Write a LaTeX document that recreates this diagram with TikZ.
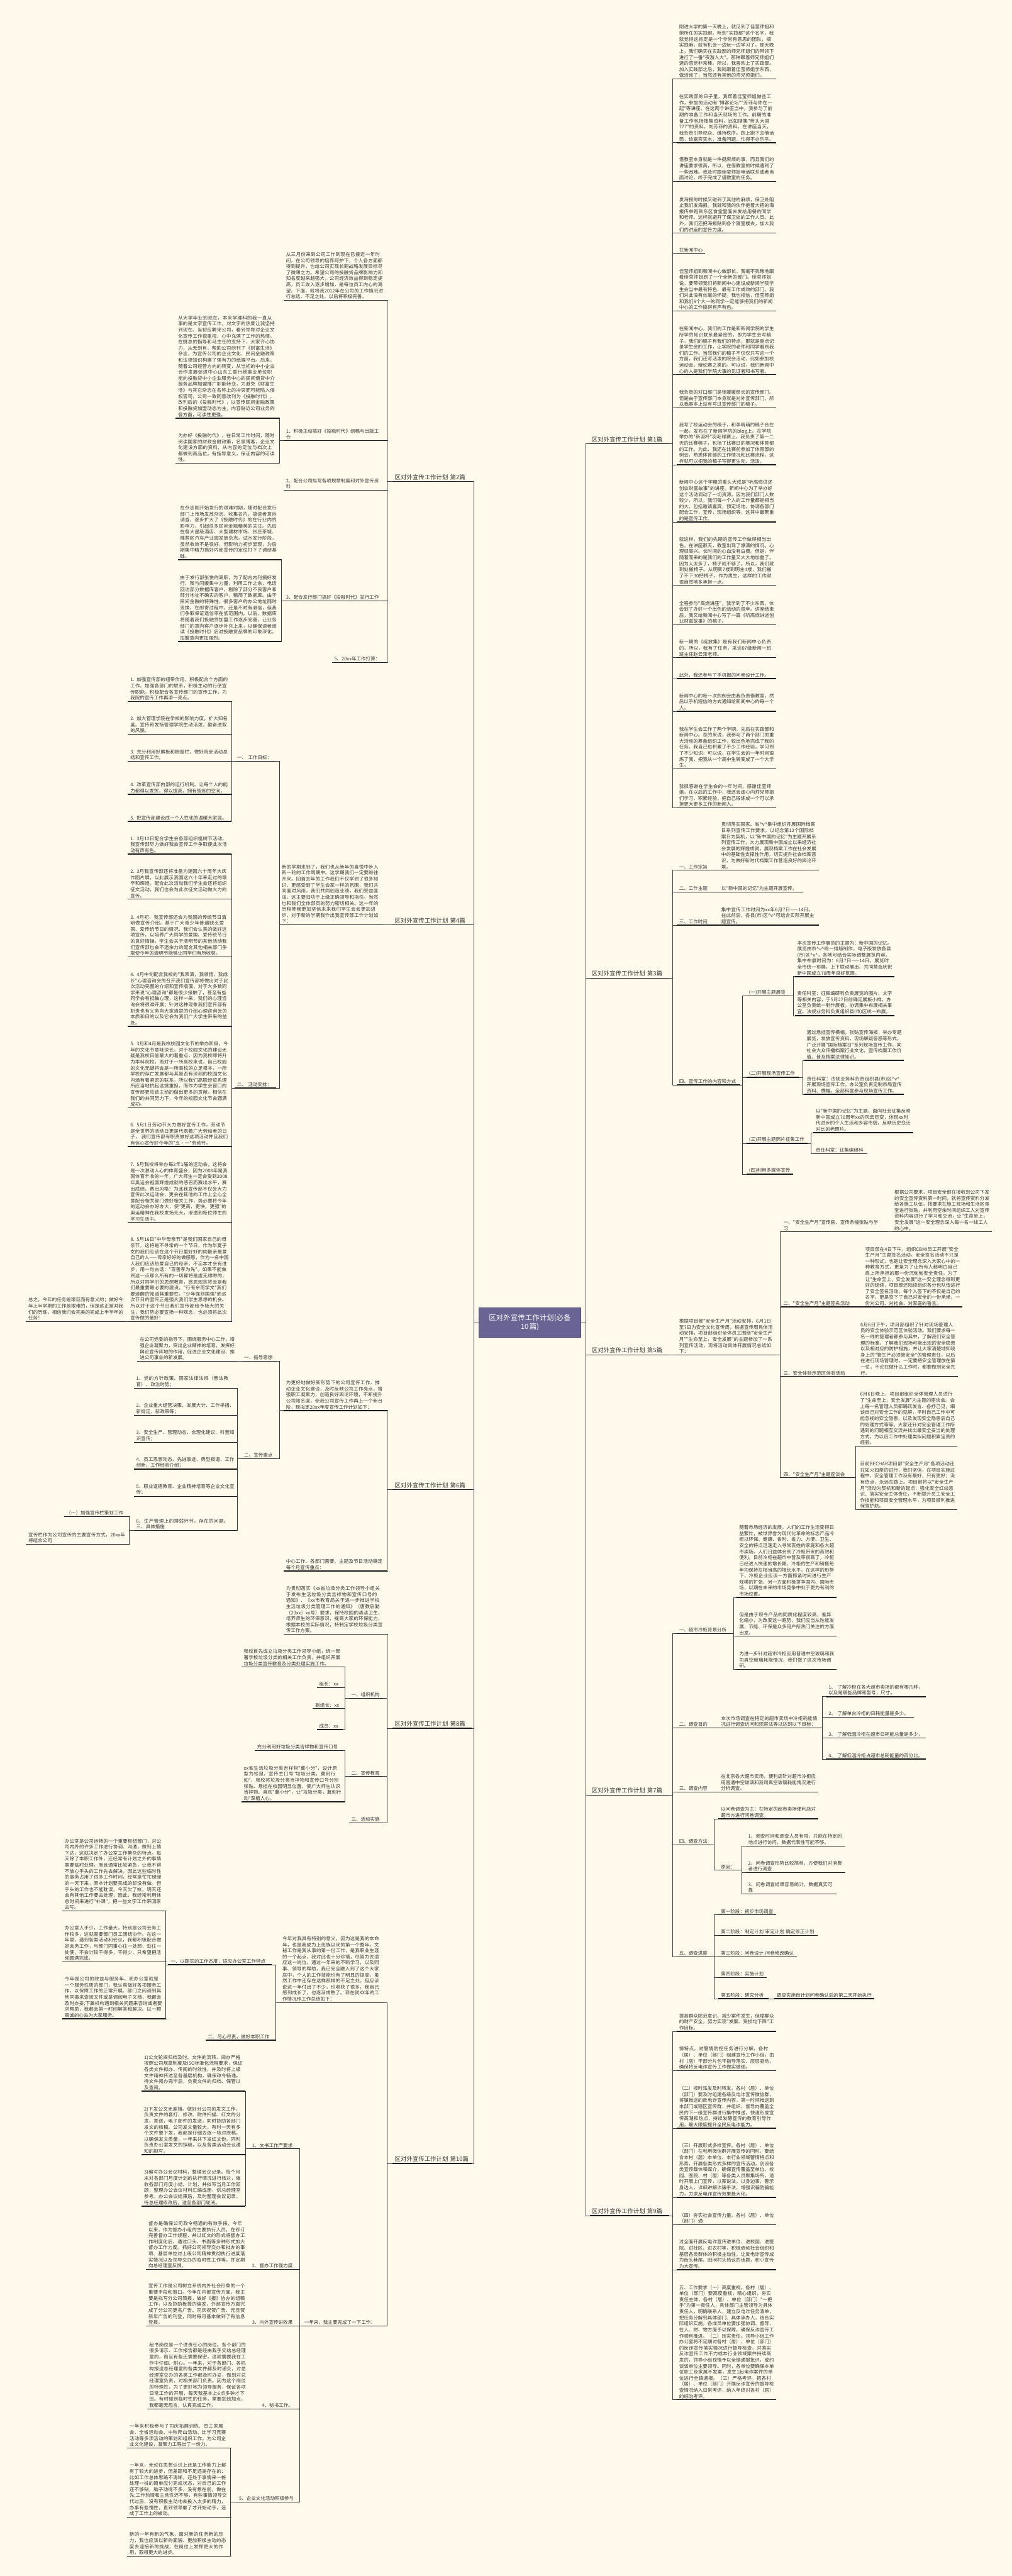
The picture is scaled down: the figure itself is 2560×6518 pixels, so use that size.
\documentclass[tikz,border=0pt]{standalone}
\usepackage{fontspec}
\newfontfamily\cjk{Noto Sans CJK SC}
\XeTeXlinebreaklocale "zh"
\XeTeXlinebreakskip = 0pt plus 1pt
\definecolor{bgcream}{RGB}{255,250,235}
\definecolor{hubfill}{RGB}{106,100,148}
\definecolor{hubdraw}{RGB}{70,66,105}
\definecolor{txtgray}{RGB}{51,51,51}
\definecolor{linkgray}{RGB}{60,60,60}
\definecolor{lineblack}{RGB}{25,25,25}
\tikzset{
  base/.style={font=\cjk\fontsize{12}{15.3}\selectfont, text=txtgray, align=left, inner xsep=6pt, inner ysep=3pt},
  uline/.style={draw=lineblack, line width=2.2pt},
  link/.style={draw=linkgray, line width=1.2pt},
  ul/.style={append after command={(\tikzlastnode.south west) edge[uline] (\tikzlastnode.south east)}},
  rnode/.style={base, ul, anchor=south west, text width=#1pt},
  lnode/.style={base, ul, anchor=south east, text width=#1pt},
  branch/.style={base, ul, font=\cjk\fontsize{15}{18}\selectfont, text width=190pt, inner xsep=5pt, inner ysep=4pt},
  rbranch/.style={branch, anchor=south west},
  lbranch/.style={branch, anchor=south east},
  hub/.style={font=\cjk\fontsize{18}{22}\selectfont, text=white, fill=hubfill, draw=hubdraw, line width=1pt,
    minimum width=259pt, minimum height=75pt, text width=230pt, align=center, inner sep=0pt}
}
\newcommand{\vv}{\textasciicircum v\textasciicircum}
\begin{document}
\begin{tikzpicture}[x=1pt,y=-1pt]
\fill[bgcream] (0,0) rectangle (2560,6518);
\useasboundingbox (0,0) rectangle (2560,6518);

% centre
\node[hub] (c) at (1340.5,3346.5) {区对外宣传工作计划(必备\\10篇)};

% the ten branches
\node[rbranch] (b1) at (1492,1123) {区对外宣传工作计划 第1篇};
\node[rbranch] (b3) at (1492,2475) {区对外宣传工作计划 第3篇};
\node[rbranch] (b5) at (1492,3428) {区对外宣传工作计划 第5篇};
\node[rbranch] (b7) at (1492,4542) {区对外宣传工作计划 第7篇};
\node[rbranch] (b9) at (1492,5606) {区对外宣传工作计划 第9篇};
\node[lbranch] (b2) at (1194,1218) {区对外宣传工作计划 第2篇};
\node[lbranch] (b4) at (1194,2340) {区对外宣传工作计划 第4篇};
\node[lbranch] (b6) at (1194,3769) {区对外宣传工作计划 第6篇};
\node[lbranch] (b8) at (1194,4373) {区对外宣传工作计划 第8篇};
\node[lbranch] (b10) at (1194,5474) {区对外宣传工作计划 第10篇};

\foreach \b in {b1,b3,b5,b7,b9} \draw[link] (c.east) -- ++(11,0) |- (\b.south west);
\foreach \b in {b2,b4,b6,b8,b10} \draw[link] (c.west) -- ++(-11,0) |- (\b.south east);

% 第1篇
\node[rnode=240] (b1a) at (1712,200) {刚进大学的第一天晚上，就见到了佳莹师姐和她所在的实践部。听到"实践部"这个名字，我就觉得这肯定是一个非常有意思的团队，搞实践嘛，就有机会一边玩一边学习了。那天晚上，我们确实在实践部的师兄师姐们的带领下进行了一番"夜游人大"。那种跟着师兄师姐们逛的感觉非常棒。所以，我喜欢上了实践部。加入实践部之后，我就跟着佳莹师姐学东西，做活动了，当然还有其他的师兄师姐们。};
\node[rnode=240] (b1b) at (1712,361) {在实践部的日子里，我帮着佳莹师姐做些工作，参加的活动有"博客论坛""芳菲与你在一起"等讲座。在这两个讲座当中，我参与了前期的准备工作和当天现场的工作。前期的准备工作包括搜集资料，比如搜集"带头大哥777"的资料，刘芳菲的资料。在讲座当天，我负责引导观众、维持秩序。跑上跑下去借话筒，给嘉宾买水，准备问题，忙得不亦乐乎。};
\node[rnode=240] (b1c) at (1712,459) {借教室本身就是一件挺麻烦的事，而且我们的讲座要求很高，所以，在借教室的时候遇到了一些困难。我及时跟佳莹师姐电话联系或者当面讨论，终于完成了借教室的任务。};
\node[rnode=240] (b1d) at (1712,590) {发海报的时候又碰到了其他的麻烦，保卫处阻止我们发海报。我就和我的伙伴抱着大把的海报传单跑到东区食堂里面去发给用餐的同学和老师。这样就避开了保卫处的工作人员。此外，我们还把海报贴到各个寝室楼去，加大我们的讲座的宣传力度。};
\node[rnode=60] (b1e) at (1712,642) {在新闻中心};
\node[rnode=240] (b1f) at (1712,787) {佳莹师姐到新闻中心做部长，我毫不犹豫地跟着佳莹师姐到了一个全新的部门。佳莹师姐说，要带领我们将新闻中心建设成新闻学院学生会当中最有特色、最有工作成效的部门，我们对此没有丝毫的怀疑。我也相信，佳莹师姐和我们6个大一的同学一定能够把我们的新闻中心的工作搞得有声有色。};
\node[rnode=240] (b1g) at (1712,948) {在新闻中心，我们的工作是和新闻学院的学生所学的知识联系最紧密的，即为学生会写稿子。我们的稿子有我们的特点，那就是重点记录学生会的工作，让学院的老师和同学看到我们的工作。当然我们的稿子不仅仅只写这一个方面，我们还写活泼的院会活动，比如参加校运动会，辩论赛之类的。可以说，我们新闻中心的人是我们学院大事的见证者和书写者。};
\node[rnode=240] (b1h) at (1712,1032) {我负责的对口部门是张媛媛部长的宣传部门。但是由于宣传部门本身就是对外宣传部门，所以我基本上没有写过宣传部门的稿子。};
\node[rnode=240] (b1i) at (1712,1176) {我写了校运动会的稿子，和李晓萌的稿子合在一起，发布在了新闻学院的blog上。在学院举办的"新羽杯"羽毛球赛上，我负责了第一二天的比赛稿子，包括了比赛日的赛况和体育部的工作。为此，我还在比赛前参加了体育部的例会，熟悉体育部的工作情况和比赛流程，这样就可以把我的稿子写得更生动、活泼。};
\node[rnode=240] (b1j) at (1712,1321) {新闻中心这个学期的重头大戏是"听高燃讲述创业财富故事"的讲座。新闻中心为了举办好这个活动调动了一切资源。因为我们部门人数较少，所以，我们每一个人的工作量都是相当的大。包括邀请嘉宾，预定场地，协调各部门配合工作，宣传，现场组织等，这其中最繁重的是宣传工作。};
\node[rnode=240] (b1k) at (1712,1481) {就这样，我们的先期的宣传工作做得相当出色。在讲座那天，教室出现了爆满的情况。心理很高兴。长时间的心血没有白费。但是，伴随着而来的是我们的工作量又大大地加重了。因为人太多了，椅子就不够了。所以，我们就到处搬椅子。从明新7楼到明主4楼，我们搬了不下30把椅子。作为男生，这样的工作就很自然地多承担一点。};
\node[rnode=240] (b1l) at (1712,1581) {全程参与"高燃讲座"，我学到了不少东西，体会到了办好一个出色的活动的艰辛。讲座结束后，我又给新闻中心写了一篇《听高燃讲述创业财富故事》的稿子。};
\node[rnode=240] (b1m) at (1712,1664) {新一期的《绽放集》是有我们新闻中心负责的，所以，我有了任务，采访07级新闻一班班主任赵云泽老师。};
\node[rnode=240] (b1n) at (1712,1717) {此外，我还参与了手机报的问卷设计工作。};
\node[rnode=240] (b1o) at (1712,1800) {新闻中心的每一次的例会由我负责借教室，然后以手机短信的方式通知给新闻中心的每一个人。};
\node[rnode=240] (b1p) at (1712,1945) {我在学生会工作了两个学期，先后在实践部和新闻中心。总的来说，我参与了两个部门的重大活动的筹备组织工作，较出色地完成了我的任务。我自己也积累了不少工作经验，学习到了不少知识。可以说，在学生会的一年时间锻炼了我，把我从一个高中生转变成了一个大学生。};
\node[rnode=240] (b1q) at (1712,2044) {我很感谢在学生会的一年时间，感谢佳莹师姐。在以后的工作中，我还会虚心向师兄师姐们学习，积累经验，把自己锻炼成一个可以承担更大更多工作的新闻人。};
\foreach \n in {b1a,b1b,b1c,b1d,b1e,b1f,b1g,b1h,b1i,b1j,b1k,b1l,b1m,b1n,b1o,b1p,b1q}
  \draw[link] (b1.south east) -- ++(9,0) |- (\n.south west);

% 第3篇
\node[rnode=95] (b3a) at (1712,2202) {一、工作宗旨};
\node[rnode=240] (b3a1) at (1819,2202) {贯彻落实国家、省\vv 集中组织开展国际档案日系列宣传工作要求，以纪念第12个国际档案日为契机，以"新中国的记忆"为主题开展系列宣传工作，大力展现新中国成立以来经济社会发展的辉煌成就，展现档案工作在社会发展中的基础性支撑性作用，切实提升社会档案意识，为做好新时代档案工作营造良好的舆论环境。};
\node[rnode=95] (b3b) at (1712,2257) {二、工作主题};
\node[rnode=200] (b3b1) at (1819,2257) {以"新中国的记忆"为主题开展宣传。};
\node[rnode=95] (b3c) at (1712,2341) {三、工作时间};
\node[rnode=240] (b3c1) at (1819,2341) {集中宣传工作时间为xx年6月7日——14日。在此前后，各县(市)区\vv 可结合实际开展主题宣传。};
\node[rnode=148] (b3d) at (1712,2745) {四、宣传工作的内容和方式};
\node[rnode=96] (b3d1) at (1889,2520) {(一)开展主题展览};
\node[rnode=240] (b3d1a) at (2011,2471) {本次宣传工作展览的主题为：新中国的记忆。展览由市\vv 统一排版制作，电子版发放各县(市)区\vv ，各地可结合实际调整展览内容。集中布展时间为：6月7日——14日。展览时全市统一布展，上下联动展出，共同营造庆祝新中国成立70周年良好氛围。};
\node[rnode=240] (b3d1b) at (2011,2570) {责任科室：征集编研科负责展览的图片、文字等相关内容，于5月27日前确定展板小样。办公室负责统一制作展板，协调集中布展相关事宜。法规业务科负责组织县(市)区统一布展。};
\node[rnode=120] (b3d2) at (1889,2726) {(二)开展现场宣传工作};
\node[rnode=240] (b3d2a) at (2035,2683) {通过悬挂宣传横幅，张贴宣传海报，举办专题展览，发放宣传资料，现场解疑答惑等形式，广泛开展"国际档案日"系列现场宣传工作，向社会大众传播档案行业文化，宣传档案工作价值，普及档案法律知识。};
\node[rnode=240] (b3d2b) at (2035,2769) {责任科室：法规业务科负责组织县(市)区\vv 开展现场宣传工作。办公室负责定制市局宣传资料、横幅。全部科室参与现场宣传工作。};
\node[rnode=142] (b3d3) at (1889,2893) {(三)开展主题照片征集工作};
\node[rnode=240] (b3d3a) at (2058,2866) {以"新中国的记忆"为主题，面向社会征集反映新中国成立70周年xx的风云巨变，体现xx时代进步的个人生活和乡容市貌，反映历史变迁对比的老照片。};
\node[rnode=124] (b3d3b) at (2058,2919) {责任科室：征集编研科};
\node[rnode=106] (b3d4) at (1889,2971) {(四)利用多媒体宣传};
\foreach \n in {b3a,b3b,b3c,b3d} \draw[link] (b3.south east) -- ++(9,0) |- (\n.south west);
\draw[link] (b3a.south east) -- (b3a1.south west);
\draw[link] (b3b.south east) -- (b3b1.south west);
\draw[link] (b3c.south east) -- (b3c1.south west);
\foreach \n in {b3d1,b3d2,b3d3,b3d4} \draw[link] (b3d.south east) -- ++(6,0) |- (\n.south west);
\foreach \n in {b3d1a,b3d1b} \draw[link] (b3d1.south east) -- ++(10,0) |- (\n.south west);
\foreach \n in {b3d2a,b3d2b} \draw[link] (b3d2.south east) -- ++(9,0) |- (\n.south west);
\foreach \n in {b3d3a,b3d3b} \draw[link] (b3d3.south east) -- ++(9,0) |- (\n.south west);

% 第5篇
\node[rnode=240] (b5a) at (1712,3428) {根据项目部"安全生产月"活动安排，6月1日至7日为安全文化宣传周，根据宣传周具体活动安排，项目部组织全体员工围绕"安全生产月""生命至上，安全发展"的主题参加了一系列宣传活动，现将活动具体开展情况总结如下：};
\node[rnode=258] (b5a1) at (1976,3117) {一、"安全生产月"宣传画、宣传条幅张贴与学\\习};
\node[rnode=240] (b5a1c) at (2257,3117) {根据公司要求，项目安全部在接收到公司下发的安全宣传资料第一时间，就将宣传资料分发给各施工队伍，按要求在施工现场和生活区食堂进行张贴，并利用空余时间组织工人对宣传资料内容进行了学习和交流，让"生命至上，安全发展"这一安全理念深入每一名一线工人的心中。};
\node[rnode=195] (b5a2) at (1976,3307) {二、"安全生产月"主题签名活动};
\node[rnode=240] (b5a2c) at (2183,3307) {项目部在4日下午，组织CBMI员工开展"安全生产月"主题签名活动。安全签名活动不只是一种形式，也是让安全理念深入大家心中的一种教育方式，更是为了让所有人都明白自己肩上所承担的那一份沉甸甸安全责任。为了让"生命至上，安全发展"这一安全理念得到更好的延续，项目部还陆续组织各分包队伍进行了安全签名活动。每个人签下的不仅是自己的名字，更是签下了自己对安全的一份承诺，一份对公司、对社会、对家庭的誓言。};
\node[rnode=183] (b5a3) at (1976,3483) {三、安全体验示范区体验活动};
\node[rnode=240] (b5a3c) at (2171,3483) {6月6日下午，项目部组织了针对现场管理人员的安全体验示范区体验活动。我们要求每一名一线的管理者都参与其中，了解我们安全管理的标准，了解我们现场可能出现的安全隐患以及相对应的防护措施，并让大家清楚地知晓身上的"管生产必须管安全"的管理责任，以后在进行现场管理时，一定要把安全管理放在第一位，不论在做什么工作时，都要做到安全先行。};
\node[rnode=173] (b5a4) at (1976,3739) {四、"安全生产月"主题座谈会};
\node[rnode=240] (b5a4a) at (2170,3659) {6月6日晚上，项目部组织全体管理人员进行了"生命至上，安全发展"为主题的座谈会。会上每一名管理人员都踊跃发言、各抒己见，细谈自己对安全工作的见解，平时自己工作中可能忽视的安全隐患，以及发现安全隐患后自己的处理方式等等。大家还针对安全管理工作所遇到的问题相互交流并找出最安全妥当的处理方式，为以后工作中处理类似问题积累宝贵的经验。};
\node[rnode=240] (b5a4b) at (2170,3820) {目前BECHAR项目部"安全生产月"各项活动还在如火如荼的进行，我们坚信，在项目实施过程中，安全管理工作没有最好，只有更好；没有终点，永远在路上。项目部将以"安全生产月"活动为契机和新的起点，强化安全红线意识、落实安全主体责任，不断提升员工安全工作技能和项目安全管理水平，为项目顺利推进保驾护航。};
\draw[link] (b5.south east) -- (b5a.south west);
\foreach \n in {b5a1,b5a2,b5a3,b5a4} \draw[link] (b5a.south east) -- ++(10,0) |- (\n.south west);
\draw[link] (b5a1.south east) -- (b5a1c.south west);
\draw[link] (b5a2.south east) -- (b5a2c.south west);
\draw[link] (b5a3.south east) -- (b5a3c.south west);
\foreach \n in {b5a4a,b5a4b} \draw[link] (b5a4.south east) -- ++(3,0) |- (\n.south west);

% 第7篇
\node[rnode=127] (b7a) at (1712,4133) {一、超市冷柜背景分析};
\node[rnode=240] (b7a1) at (1864,4042) {随着市场经济的发展，人们的工作生活变得日益繁忙，被世界誉为现代化革命的标志产品冷柜以环保、健康、省时、省力、方便、卫生、安全的特点迅速走入寻常百姓的家庭和各大超市卖场。人们日益体会到了冷柜带来的高效和便利。目前冷柜在超市中普及率很高了，冷柜已经进入快速的增长期，冷柜的生产和销售每年均保持在相当高的增长水平。在这样的形势下，冷柜企业应该一方面抓紧时间进行生产规模的扩张，另一方面积极拼争国内、国际市场，以期在未来的市场竞争中处于更为有利的市场位置。};
\node[rnode=240] (b7a2) at (1864,4140) {但是由于现今产品的同质化程度较高，差异化缩小，为改变这一趋势，我们应当从性能发展，节能、环保是众多用户所热门关注的方面出发。};
\node[rnode=240] (b7a3) at (1864,4224) {为进一步针对超市冷柜应用普通中空玻璃和我司真空玻璃耗能情况，我们做了这次市场调研。};
\node[rnode=94] (b7b) at (1712,4372) {二、调查目的};
\node[rnode=248] (b7b1) at (1818,4372) {本次市场调查在特定的超市卖场中冷柜耗能情况进行调查访问和观察法等以达到以下目标：};
\node[rnode=240] (b7b1a) at (2090,4293) {1、 了解冷柜在各大超市卖场的都有哪几种，以及是哪些品牌和型号，尺寸。};
\node[rnode=210] (b7b1b) at (2090,4345) {2、 了解单台冷柜的日耗能量是多少。};
\node[rnode=240] (b7b1c) at (2090,4398) {3、 了解低温冷柜在超市日耗能总量是多少，};
\node[rnode=240] (b7b1d) at (2090,4451) {4、 了解低温冷柜占超市总耗能量的百分比。};
\node[rnode=94] (b7c) at (1712,4534) {三、调查内容};
\node[rnode=240] (b7c1) at (1818,4534) {在北京各大超市卖场，便利店针对超市冷柜应用普通中空玻璃和我司真空玻璃耗能情况进行分析调查。};
\node[rnode=76] (b7d) at (1712,4668) {四、调查方法};
\node[rnode=240] (b7d1) at (1818,4602) {以问卷调查为主：在特定的超市卖场便利店对超市方进行问卷调查。};
\node[rnode=40] (b7d2) at (1818,4732) {原因：};
\node[rnode=240] (b7d2a) at (1887,4671) {1、调查时间和调查人员有限，只能在特定的地点进行访问，数据代表性可能不够。};
\node[rnode=240] (b7d2b) at (1887,4738) {2、问卷调查形势比较简单，方便我们对消费者进行调查};
\node[rnode=217] (b7d2c) at (1887,4792) {3、问卷调查结果容易统计，数据真实可靠};
\node[rnode=76] (b7e) at (1712,4951) {五、调查进度};
\node[rnode=134] (b7e1) at (1818,4845) {第一阶段：初步市场调查};
\node[rnode=238] (b7e2) at (1818,4897) {第二阶段：制定计划 审定计划 确定修正计划};
\node[rnode=186] (b7e3) at (1818,4951) {第三阶段：问卷设计 问卷修改确认};
\node[rnode=110] (b7e4) at (1818,5004) {第四阶段：实施计划};
\node[rnode=114] (b7e5) at (1818,5057) {第五阶段：研究分析};
\node[rnode=240] (b7e5a) at (1959,5057) {调查实施自计划问卷确认后的第二天开始执行};
\foreach \n in {b7a,b7b,b7c,b7d,b7e} \draw[link] (b7.south east) -- ++(9,0) |- (\n.south west);
\foreach \n in {b7a1,b7a2,b7a3} \draw[link] (b7a.south east) -- ++(4,0) |- (\n.south west);
\draw[link] (b7b.south east) -- (b7b1.south west);
\foreach \n in {b7b1a,b7b1b,b7b1c,b7b1d} \draw[link] (b7b1.south east) -- ++(2,0) |- (\n.south west);
\draw[link] (b7c.south east) -- (b7c1.south west);
\foreach \n in {b7d1,b7d2} \draw[link] (b7d.south east) -- ++(7,0) |- (\n.south west);
\foreach \n in {b7d2a,b7d2b,b7d2c} \draw[link] (b7d2.south east) -- ++(7,0) |- (\n.south west);
\foreach \n in {b7e1,b7e2,b7e3,b7e4,b7e5} \draw[link] (b7e.south east) -- ++(7,0) |- (\n.south west);
\draw[link] (b7e5.south east) -- (b7e5a.south west);

% 第9篇
\node[rnode=240] (b9a) at (1712,5140) {提高群众防范意识、减少案件发生，保障群众的财产安全，努力实现"发案、受损均下降"工作目标。};
\node[rnode=240] (b9b) at (1712,5239) {情特点，对警情防控任务进行分解，各村（居）、单位（部门）组建宣传工作小组，由村（居）干部分片包干指导落实、层层驱动，确保将反电诈宣传工作做实做细。};
\node[rnode=240] (b9c) at (1712,5385) {（二）按时派发及时转发。各村（居）、单位（部门）要及时组建各级反电诈宣传微信群，将镇推送的反电诈宣传内容，第一时间推送到本部门或辖区宣传群，并组织、督导向覆盖全民的下一级宣传群进行集中推送，快速形成宣传高潮和热点，持续发酵宣传的教育引导作用，最大限度提升全民反电诈能力。};
\node[rnode=240] (b9d) at (1712,5560) {（三）开展形式多样宣传。各村（居）、单位（部门）在利用微信群开展宣传的同时，要结合本村（居）本单位、本行业领域警情特点和形势，开展各类形式多样的宣传活动，创设各类宣传载体和媒介，确保宣传覆盖至单位、校园、医院、村（居）等各类人员聚集场所，适时开展上门宣传，以案说法，以身边事，警示身边人，详细讲解诈骗手法，增强识骗防骗能力，力求反电诈宣传效果最大化。};
\node[rnode=240] (b9e) at (1712,5629) {（四）夯实社会宣传力量。各村（居）、单位（部门）通};
\node[rnode=240] (b9f) at (1712,5743) {过全面开展反电诈宣传进单位、进校园、进医院、进社区、进农村等，积极调动社会组织和基层各类群体的积极主动性，让反电诈宣传成为街头巷尾、田间村头热议的话题，积小宣传为大宣传。};
\node[rnode=240] (b9g) at (1712,6072) {五、工作要求（一）高度重视。各村（居）、单位（部门）要高度重视，精心组织，夯实责任主体，各村（居）、单位（部门）"一把手"为第一责任人，具体部门主管领导为具体责任人，明确联系人，建立反电诈任务清单，把任务分解到具体部门、具体承办人，结合实际组织实施。各成员单位要加强协调、督导，在人、财、物方面予以保障，确保反诈宣传工作顺利推进。（二）压实责任。领导小组工作办公室将不定期对各村（居）、单位（部门）的反诈宣传落实情况进行督导检查，对落实反诈宣传工作不力或本行业领域案件持续高发的，领导小组视情予以全镇通报批评，或约谈该单位主要领导。同时，各单位要确保本单位职工及家属不发案，发生1起电诈案件的单位进行全镇通报。（三）严格考评。把各村（居）、单位（部门）开展反诈宣传的督导检查情况纳入日常考评，纳入年终对各村（居）的综治考评。};
\foreach \n in {b9a,b9b,b9c,b9d,b9e,b9f,b9g} \draw[link] (b9.south east) -- ++(9,0) |- (\n.south west);

% 第2篇
\node[lnode=250] (b2a) at (980,760) {从三月份来到公司工作到现在已接近一年时间，在公司领导的培养呵护下，个人各方面都得到提升，也给公司实现长期战略发展目标尽了微薄之力。希望公司的投融贷品牌影响力和知名度越来越强大，公司经济效益得到稳定提高，员工收入逐步增加，是每位员工内心的渴望。下面，就将我2012年在公司的工作情况进行总结，不足之处，以后将积极完善。};
\node[lnode=250] (b2b) at (980,1115) {1、积极主动搞好《投融时代》组稿与出版工\\作};
\node[lnode=250] (b2b1) at (707,1058) {从大学毕业到现在，本来学理科的我一直从事的是文字宣传工作，对文字的热爱让我坚持到现在。当初应聘来公司，看到领导对企业文化宣传工作很重视，心中充满了工作的热情。在姚总的指导和马主任的支持下，大家齐心协力，从无到有，帮助公司创刊了《财富生活》杂志，为宣传公司的企业文化、民间金融政策和法律知识构建了强有力的纸媒平台。后来，随着公司经营方向的转变，从当初的中小企业合作发展促进中心山东工委行政事业单位职能向投融贷中小企业服务中心的民间借贷中介服务品牌加盟推广职能转变，为避免《财富生活》与其它杂志在名称上的冲突而可能陷入侵权官司，公司一致同意改刊为《投融时代》。改刊后的《投融时代》，以宣传民间金融政策和投融贷加盟动态为主，内容贴近公司业务的各方面，可读性更强。};
\node[lnode=250] (b2b2) at (707,1172) {为办好《投融时代》，在日常工作时间，随时阅读国家的财政金融政策，名家博客，企业文化建设方面的资料，从内容的定位与档次上都做到高品位，有指导意义，保证内容的可读性。};
\node[lnode=250] (b2c) at (980,1240) {2、配合公司拟写各项规章制度和对外宣传资\\料};
\node[lnode=250] (b2d) at (980,1520) {3、配合发行部门搞好《投融时代》发行工作};
\node[lnode=250] (b2d1) at (712,1416) {在杂志刚开始发行的艰难时期，随时配合发行部门上市场发放杂志，收集名片，搞读者意向调查，逐步扩大了《投融时代》的在行业内的影响力，引起很多民间金融精英的关注。先后在各大星级酒店、大型建材市场、张庄茶城、槐荫区汽车产业园发放杂志。试水发行阶段，虽然收效不是很好，但影响力初步显现，为后期集中精力搞好内部宣传的定位打下了调研基础。};
\node[lnode=250] (b2d2) at (712,1623) {由于发行部张悦的离职，为了配合内刊搞好发行，我与闫媛集中力量，利用工作之余，电话回访部分数据库客户，剔除了部分不良客户和部分地址不确实的客户，精简了数据库。由于民间金融的特殊性，很多客户的办公地址随时变换，在邮寄过程中，还是不时有退信，但我们争取保证退信率在低范围内。以后，数据库将随着我们投融贷加盟工作逐步完善，让业务部门的意向客户逐步补充上来，以确保读者阅读《投融时代》后对投融贷品牌的印象深化，加盟意向更加强烈。};
\node[lnode=128] (b2e) at (980,1676) {5、20xx年工作打算：};
\foreach \n in {b2a,b2b,b2c,b2d,b2e} \draw[link] (b2.south west) -- ++(-14,0) |- (\n.south east);
\foreach \n in {b2b1,b2b2} \draw[link] (b2b.south west) -- ++(-11,0) |- (\n.south east);
\foreach \n in {b2d1,b2d2} \draw[link] (b2d.south west) -- ++(-6,0) |- (\n.south east);

% 第4篇
\node[lnode=250] (b4a) at (969,2340) {新的学期来到了，我们也从新年的喜悦中步入新一轮的工作周期中。这学期我们一定要继往开来。回首去年的工作我们不仅学到了很多知识，更感受到了学生会家一样的氛围，我们共同面对风雨，我们共同创造业绩，我们受益匪浅，这主要归功于上级正确领导和指引。当然也和我们全体部员的努力密切相关。这一年的历程使我更加坚信未来我们学生会会更加进步，对于新的学期我作出我宣传部工作计划如下：};
\node[lnode=92] (b4a1) at (698,1926) {一、 工作目标：};
\node[lnode=250] (b4a1a) at (586,1775) {1. 加强宣传部的纽带作用，积极配合个方面的工作。加强各部门的联系，积极主动的行使宣传职能。积极配合各宣传部门的宣传工作，为我院的宣传工作再添一亮点。};
\node[lnode=250] (b4a1b) at (586,1858) {2. 加大管理学院在学校的影响力度，扩大知名度。宣传和发扬管理学院生动活泼，勤奋进取的风貌。};
\node[lnode=250] (b4a1c) at (586,1926) {3. 充分利用好展板和橱窗栏，做好院会活动总结和宣传工作。};
\node[lnode=250] (b4a1d) at (586,2010) {4. 改革宣传部内部的运行机制。让每个人的能力都得以发挥，得以提高，拥有锻炼的空间。};
\node[lnode=250] (b4a1e) at (586,2078) {5. 把宣传部建设成一个人性化的温暖大家庭。};
\node[lnode=92] (b4a2) at (698,2753) {二、 活动安排：};
\node[lnode=250] (b4a2a) at (586,2161) {1. 3月12日配合学生会各部组织植树节活动，我宣传部尽力做好我会宣传工作争取使此次活动有声有色。};
\node[lnode=250] (b4a2b) at (586,2275) {2. 3月我宣传部还将准备为建国六十周年大庆作图片展，以此展示我国这六十年来走过的艰辛和辉煌。配合此次活动我们学生会还将组织征文活动，我们也会为此次征文活动做大力的宣传。};
\node[lnode=250] (b4a2c) at (586,2421) {3. 4月初，我宣传部还会为我国的传统节日清明做宣传介绍，基于广大青少年普遍缺乏爱国、爱传统节日的情况，我们会认真的做好这项宣传，以培养广大同学的爱国、爱传统节日的良好情操。学生会关于清明节的其他活动我们宣传部也会不遗余力的配合其他相关部门争取使今年的清明节能够让同学们有所收获。};
\node[lnode=250] (b4a2d) at (586,2597) {4. 4月中旬配合我校的"我表演，我领悟，我成长"心理咨询会的召开我们宣传部将做出对于此次活动完整的介绍和宣传版面，对于大多数同学来说"心理咨询"都是很少接触了，甚至有些同学会有抵触心理，这样一来，我们的心理咨询会将很难开展；针对这种现象我们宣传部有职责也有义务向大家清楚的介绍心理咨询会的本质和目的以及它会为我们广大学生带来的益处。};
\node[lnode=250] (b4a2e) at (586,2803) {5. 3月和4月是我校校园文化节的举办阶段，今年的文化节意味深长，对于校园文化的建设无疑是我校目前最大的着重点，因为我校即将升为本科院校，而对于一所高校来说，自己校园的文化无疑将会是一所高校的立足根本，一所学校的存亡发展都与其是否有深刻的校园文化内涵有着紧密的联系，所以我们高职经贸系理所应当地抗起这挑重担，而作为学生会窗口的宣传部更应该主动的做出更多的贡献，相信在我们的共同努力下，今年的校园文化节会圆满成功。};
\node[lnode=250] (b4a2f) at (586,2901) {6. 5月1日劳动节大力做好宣传工作，劳动节是全世界的活动日更是代表着广大劳动者的日子， 我们宣传部有职责做好这项活动并且我们有信心宣传好今年的"五·一"劳动节。};
\node[lnode=250] (b4a2g) at (586,3093) {7. 5月我校将举办每2年1届的运动会，这将会是一次激动人心的体育盛会，因为2008年是我国体育丰收的一年，广大师生一定会受到2008年奥运会祖国辉煌成就的感召而赛出水平，赛出成绩，赛出风格！为此我宣传部不仅会大力宣传此次运动会，更会在其他的工作上全心全意配合相关部门做好相关工作，势必要将今年的运动会办好办大，使"更高，更快，更强"的奥运精神在我校发扬光大，渗透到每位师生的学习生活中。};
\node[lnode=250] (b4a2h) at (586,3344) {8. 5月16日"中华母亲节"是我们国家自己的母亲节，这将是不寻常的一个节日，作为华夏子女的我们应该在这个节日里好好的向最亲最爱自己的人——母亲好好的做感恩，作为一名中国人我们应该热爱自己的母亲，不忘本才会有进步，用一句古话："百善孝为先"。如果不能做到这一点那么所有的一切都将是虚无缥缈的，所以对同学们的思想教育，感恩观念将会是我们最重要最必要的建设，"行有余而学文"我们要清醒的知道其重要性，"少年强则国强"而这次节日的宣传正是强大我们学生思想的机会。所以对于这个节日我们宣传部给予极大的关注，我们势必要宣扬一种观念，也必须将此次宣传做的最好！};
\node[lnode=240] (b4a2h1) at (318,3344) {总之，今年的任务是艰巨而有意义的；做好今年上半学期的工作是艰难的，但是这正是对我们的历练，相信我们会完美的完成上半学年的任务！};
\draw[link] (b4.south west) -- ++(-14,0) |- (b4a.south east);
\foreach \n in {b4a1,b4a2} \draw[link] (b4a.south west) |- (\n.south east);
\foreach \n in {b4a1a,b4a1b,b4a1c,b4a1d,b4a1e} \draw[link] (b4a1.south west) -- ++(-8,0) |- (\n.south east);
\foreach \n in {b4a2a,b4a2b,b4a2c,b4a2d,b4a2e,b4a2f,b4a2g,b4a2h} \draw[link] (b4a2.south west) -- ++(-8,0) |- (\n.south east);
\draw[link] (b4a2h.south west) -- (b4a2h1.south east);

% 第6篇
\node[lnode=250] (b6a) at (980,3569) {为更好地做好新形势下的公司宣传工作，推动企业文化建设，及时反映公司工作亮点，增强职工凝聚力，创造良好舆论环境，不断提升公司知名度，使我公司宣传工作再上一个新台阶，现拟定20xx年度宣传工作计划如下：};
\node[lnode=76] (b6a1) at (700,3444) {一、指导思想};
\node[lnode=240] (b6a1a) at (600,3444) {在公司党委的指导下，围绕服务中心工作，增强企业凝聚力，突出企业精神的培育，发挥好舆论宣传阵地的作用，促进企业文化建设、推进公司事业的新发展。};
\node[lnode=76] (b6a2) at (700,3691) {二、宣传重点};
\node[lnode=250] (b6a2a) at (601,3513) {1、党的方针政策、国家法律法规（普法教育）、政治时势；};
\node[lnode=250] (b6a2b) at (601,3581) {2、企业重大经营决策、发展大计、工作举措、新规定、新政策等；};
\node[lnode=250] (b6a2c) at (601,3650) {3、安全生产、管理动态、合理化建议、科普知识宣传；};
\node[lnode=250] (b6a2d) at (601,3717) {4、员工思想动态、先进事迹、典型报道、工作创新、工作经验介绍；};
\node[lnode=250] (b6a2e) at (601,3786) {5、职业道德教育、企业精神培育等企业文化宣传；};
\node[lnode=250] (b6a2f) at (601,3872) {6、生产管理上的薄弱环节，存在的问题。 三、具体措施};
\node[lnode=154] (b6a2f1) at (328,3837) {（一）加强宣传栏策划工作};
\node[lnode=250] (b6a2f2) at (328,3907) {宣传栏作为公司宣传的主要宣传方式，20xx年将结合公司};
\node[lnode=250] (b6b) at (980,3975) {中心工作、各部门需要、主题及节日活动确定每个月宣传重点：};
\foreach \n in {b6a,b6b} \draw[link] (b6.south west) -- ++(-14,0) |- (\n.south east);
\foreach \n in {b6a1,b6a2} \draw[link] (b6a.south west) -- ++(-11,0) |- (\n.south east);
\draw[link] (b6a1.south west) -- (b6a1a.south east);
\foreach \n in {b6a2a,b6a2b,b6a2c,b6a2d,b6a2e,b6a2f} \draw[link] (b6a2.south west) -- ++(-11,0) |- (\n.south east);
\foreach \n in {b6a2f1,b6a2f2} \draw[link] (b6a2f.south west) -- ++(-11,0) |- (\n.south east);

% 第8篇
\node[lnode=250] (b8a) at (980,4135) {为贯彻落实《xx省垃圾分类工作领导小组关于发布生活垃圾分类吉祥物和宣传口号的通知》、《xx市教育局关于进一步推进学校生活垃圾分类管理工作的通知》（唐教后勤〔20xx〕xx号）要求，保持校园的清洁卫生，培养师生的环保意识，提高大家的环保能力，根据本校的实际情况，特制定学校垃圾分类宣传工作方案。};
\node[lnode=74] (b8b) at (969,4297) {一、组织机构};
\node[lnode=250] (b8b1) at (873,4218) {我校首先成立垃圾分类工作领导小组，统一部署学校垃圾分类的相关工作负责，并组织开展垃圾分类宣传教育及分类处理实施工作。};
\node[lnode=53] (b8b2) at (867,4270) {组长：xx};
\node[lnode=63] (b8b3) at (867,4323) {副组长：xx};
\node[lnode=53] (b8b4) at (867,4376) {成员：xx};
\node[lnode=74] (b8c) at (969,4495) {二、宣传教育};
\node[lnode=210] (b8c1) at (867,4429) {充分利用好垃圾分类吉祥物和宣传口号};
\node[lnode=250] (b8c2) at (873,4559) {xx省生活垃圾分类吉祥物"冀小分"，设计原型为松鼠，宣传主口号"垃圾分类，冀刻行动"，我校将垃圾分类吉祥物和宣传口号分别张贴、悬挂在校园明显位置，使广大师生认识吉祥物、喜欢"冀小分"，让"垃圾分类，冀刻行动"深植人心。};
\node[lnode=74] (b8d) at (969,4612) {三、活动实施};
\foreach \n in {b8a,b8b,b8c,b8d} \draw[link] (b8.south west) -- ++(-14,0) |- (\n.south east);
\foreach \n in {b8b1,b8b2,b8b3,b8b4} \draw[link] (b8b.south west) -- ++(-10,0) |- (\n.south east);
\foreach \n in {b8c1,b8c2} \draw[link] (b8c.south west) -- ++(-10,0) |- (\n.south east);

% 第10篇
\node[lnode=250] (b10a) at (971,5067) {今年对我具有特别的意义，因为这是我的本命年，也是我成为上班族以来的第一个整年。文秘工作是我从事的第一份工作，是我职业生涯的一个起点，我对此也十分珍惜，尽努力去适应这一岗位。通过一年来的不断学习，以及同事、领导的帮助，我已完全融入到了这个大家庭中，个人的工作技能也有了明显的提高，虽然工作中还存在这样那样的不足之处，但应该说这一年付出了不少，也收获了很多，我自己感到成长了，也逐渐成熟了。现在就XX年的工作情况作工作总结如下：};
\node[lnode=250] (b10a1) at (688,4971) {一、以踏实的工作态度，适应办公室工作特点};
\node[lnode=250] (b10a1a) at (420,4835) {办公室是公司运转的一个重要枢纽部门，对公司内外的许多工作进行协调、沟通，做到上情下达，这就决定了办公室工作繁杂的特点。每天除了本职工作外，还经常有计划之外的事情需要临时处理，而且通常比较紧急，让我不得不放心手头的工作先去解决，因此这些临时性的事务占用了很多工作时间，经常是忙忙碌碌的一天下来，原本计划要完成的却没有做。但手头的工作也不能耽误，今天欠了帐，明天还会有其他工作要去处理，因此，我经常利用休息时间来进行"补课"，把一些文字工作带回家去写。};
\node[lnode=250] (b10a1b) at (420,4964) {办公室人手少，工作量大，特别是公司会务工作较多，这就需要部门员工团结协作。在这一年里，遇到各类活动和会议，我都积极配合做好会务工作，与部门同事心往一处想，劲往一处使，不会计较干得多，干得少，只希望把活动圆满完成。};
\node[lnode=250] (b10a1c) at (420,5108) {今年是公司的效益与服务年，而办公室就是一个服务性质的部门，我认真做好各项服务工作，以保障工作的正常开展。部门之间调到其他同事来查阅文件或是调阅电子文档，我都会及时办妥;下属机构遇到相关问题来咨询或者要求帮助，我都会第一时间解答和解决。以一颗真诚的心去为大家服务。};
\node[lnode=166] (b10a2) at (698,5162) {二、尽心尽责，做好本职工作};
\node[lnode=195] (b10b) at (971,5885) {一年来，我主要完成了一下工作：};
\node[lnode=114] (b10b1) at (758,5437) {1、文书工作严要求};
\node[lnode=250] (b10b1a) at (621,5291) {1)公文轮阅归档及时。文件的流转、阅办严格按照公司规章制度及ISO标准化流程要求，保证各类文件拟办、传阅的时效性，并及时将上级文件精神传达至各基层机构，确保政令畅通。待文件阅办完毕后，负责文件的归档、保管以及查阅。};
\node[lnode=250] (b10b1b) at (621,5452) {2)下发公文无差错。做好分公司的发文工作，负责文件的套打、修改、附件扫描、红文的分发、寄送，电子邮件的发送，同时协助各部门发文的核稿。公司发文量较大，有时一天有多个文件要下发，我都是仔细去逐一核对原稿，以确保发文质量，一年来共下发红文份。同时负责办公室发文的拟稿，以及各类活动会议通知的拟写。};
\node[lnode=250] (b10b1c) at (621,5582) {3)编写办公会议材料，整理会议记录。每个月末对各部门月度计划的执行情况进行核对，催收各部门月度小结、计划，并拟写当月工作回顾，整理办公会议材料汇编成册，供总经理室参考。办公会议结束后，及时整理会议记录，待总经理修改后，送至各部门轮阅。};
\node[lnode=114] (b10b2) at (758,5742) {2、督办工作强力度};
\node[lnode=250] (b10b2a) at (632,5742) {督办是确保公司政令畅通的有效手段，今年以来，作为督办小组的主要执行人员，在修订完善督办工作规程，并以红文的形式将督办工作制度化后，通过口头、书面等多种形式加大督办工作力度。抓好公司领导交办和批办的事项、基层单位对上级公司精神贯彻执行进度落实情况以及领导交办的临时性工作等，并定期向总经理室反馈。};
\node[lnode=114] (b10b3) at (758,5885) {3、内外宣传讲效果};
\node[lnode=250] (b10b3a) at (632,5885) {宣传工作是公司树立系统内外社会形象的一个重要手段和窗口。今年在内部宣传方面，我主要是拟写分公司简报，做好《报》协办的组稿工作，以及协助板报的编发，外部宣传方面完成了分公司更名广告、司庆祝贺广告、元旦贺新年广告的刊登，同时每月基本做到了有信息登报。};
\node[lnode=89] (b10b4) at (758,6095) {4、秘书工作。};
\node[lnode=250] (b10b4a) at (634,6095) {秘书岗位是一个讲责任心的岗位。各个部门的很多请示、工作报告都是经由我手交给总经理室的，而且有些还需要保密，这就需要我在工作中仔细、耐心。一年来，对于各部门、各机构报送总经理室的各类文件都及时递交，对总经理室交办的各类工作都及时办妥，做到对总经理室负责，对相关部门负责。因为这个岗位的特殊性，为了更好地为领导服务，保证各项日常工作的开展，每天我基本上6点多钟才下班。有时碰到临时性的任务，需要加班加点，我都毫无怨言，认真完成工作。};
\node[lnode=147] (b10b5) at (758,6331) {5、企业文化活动积极参与};
\node[lnode=250] (b10b5a) at (584,6194) {一年来积极参与了司庆拓展训练、员工家属会、全省运动会、中秋爬山活动、比学习竞赛活动等多项活动的策划和组织工作，为公司企业文化建设，凝聚力工程出了一份力。};
\node[lnode=250] (b10b5b) at (584,6369) {一年来，无论在思想认识上还是工作能力上都有了较大的进步，但差距和不足还是存在的：比如工作总体思路不清晰，还处于事情来一桩处理一桩的简单应付完成状态，对自己的工作还不够钻，脑子动得不多，没有想在前，做在先;工作热情和主动性还不够，有些事情领导交代过后，没有积极主动地去投入太多的精力，办事有些惰性，直到领导催了才开始动手，造成了工作上的被动。};
\node[lnode=250] (b10b5c) at (584,6468) {新的一年有新的气象，面对新的任务新的压力，我也应该以新的面貌、更加积极主动的态度去迎接新的挑战，在岗位上发挥更大的作用，取得更大的进步。};
\foreach \n in {b10a,b10b} \draw[link] (b10.south west) -- ++(-14,0) |- (\n.south east);
\foreach \n in {b10a1,b10a2} \draw[link] (b10a.south west) -- ++(-11,0) |- (\n.south east);
\foreach \n in {b10a1a,b10a1b,b10a1c} \draw[link] (b10a1.south west) -- ++(-6,0) |- (\n.south east);
\foreach \n in {b10b1,b10b2,b10b3,b10b4,b10b5} \draw[link] (b10b.south west) -- ++(-6,0) |- (\n.south east);
\foreach \n in {b10b1a,b10b1b,b10b1c} \draw[link] (b10b1.south west) -- ++(-11,0) |- (\n.south east);
\draw[link] (b10b2.south west) -- (b10b2a.south east);
\draw[link] (b10b3.south west) -- (b10b3a.south east);
\draw[link] (b10b4.south west) -- (b10b4a.south east);
\foreach \n in {b10b5a,b10b5b,b10b5c} \draw[link] (b10b5.south west) -- ++(-15,0) |- (\n.south east);
\end{tikzpicture}
\end{document}
